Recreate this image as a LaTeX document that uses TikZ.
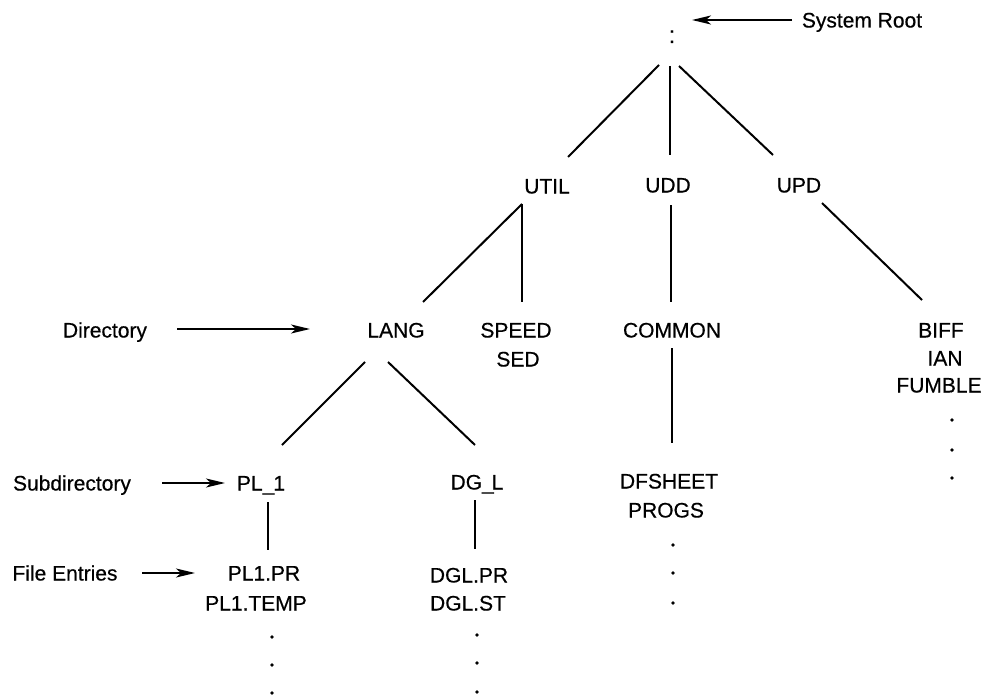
\documentclass[tikz,border=0pt]{standalone}
\usepackage{fontspec}
\setmainfont[FakeBold=0.5]{Liberation Sans}
\usetikzlibrary{arrows.meta}
\begin{document}
\begin{tikzpicture}[x=1pt,y=-1pt,
  lbl/.style={inner sep=0pt, font=\fontsize{21}{24}\selectfont, text height=15pt, text depth=0pt},
  edge/.style={line width=2pt},
  pointer/.style={line width=2pt, -{Stealth[length=19pt,width=9pt,inset=5pt]}},
  dotmark/.style={circle, fill=black, inner sep=0pt, minimum size=3.6pt}]
\useasboundingbox (0,0) rectangle (982,698);

% nodes
\node[lbl, anchor=base, font=\fontsize{24}{26}\selectfont] (root) at (672,43) {:};
\node[lbl] (sysroot) at (862,20) {System Root};
\node[lbl] (util) at (547,186) {UTIL};
\node[lbl] (udd) at (668,185) {UDD};
\node[lbl] (upd) at (799,185) {UPD};
\node[lbl] (lang) at (396,330) {LANG};
\node[lbl] (speed) at (516,330) {SPEED};
\node[lbl] (sed) at (518,359) {SED};
\node[lbl] (common) at (672,330) {COMMON};
\node[lbl] (biff) at (941,330) {BIFF};
\node[lbl] (ian) at (945,358) {IAN};
\node[lbl] (fumble) at (939,385) {FUMBLE};
\node[dotmark] (ud1) at (952,420) {};
\node[dotmark] (ud2) at (952,450) {};
\node[dotmark] (ud3) at (952,478) {};
\node[lbl] (directory) at (105,330) {Directory};
\node[lbl] (pl1) at (261,483) {PL\_\kern-1pt1};
\node[lbl] (dgl) at (477,482) {DG\_\kern-2ptL};
\node[lbl] (dfsheet) at (669,481) {DFSHEET};
\node[lbl] (progs) at (666,510) {PROGS};
\node[dotmark] (cd1) at (673,545) {};
\node[dotmark] (cd2) at (673,573) {};
\node[dotmark] (cd3) at (673,603) {};
\node[lbl] (subdir) at (72,483) {Subdirectory};
\node[lbl] (pl1pr) at (264,573) {PL1.PR};
\node[lbl] (pl1temp) at (256,603) {PL1.TEMP};
\node[dotmark] (pd1) at (272,637) {};
\node[dotmark] (pd2) at (272,665) {};
\node[dotmark] (pd3) at (272,693) {};
\node[lbl] (dglpr) at (469,575) {DGL.PR};
\node[lbl] (dglst) at (468,603) {DGL.ST};
\node[dotmark] (dd1) at (477,635) {};
\node[dotmark] (dd2) at (477,663) {};
\node[dotmark] (dd3) at (477,692) {};
\node[lbl] (files) at (65,573) {File Entries};

% connector end points
\coordinate (rootA) at (659,65);   \coordinate (utilT) at (568,157);
\coordinate (rootB) at (670,66);   \coordinate (uddT) at (670,155);
\coordinate (rootC) at (679,66);   \coordinate (updT) at (773,155);
\coordinate (utilB) at (522,204);  \coordinate (langT) at (423,302);
                                   \coordinate (speedT) at (522,302);
\coordinate (uddB) at (671,205);   \coordinate (commonT) at (671,302);
\coordinate (updB) at (822,203);   \coordinate (biffT) at (922,300);
\coordinate (langBL) at (365,362); \coordinate (pl1T) at (282,445);
\coordinate (langBR) at (388,362); \coordinate (dglT) at (475,445);
\coordinate (commonB) at (672,348);\coordinate (dfsheetT) at (672,443);
\coordinate (pl1B) at (268,502);   \coordinate (pl1prT) at (268,550);
\coordinate (dglB) at (475,500);   \coordinate (dglprT) at (475,549);

\coordinate (sysrootA) at (792,20);   \coordinate (rootP) at (692,20);
\coordinate (dirA) at (177,329);      \coordinate (langP) at (310,329);
\coordinate (subA) at (162,483);      \coordinate (pl1P) at (225,483);
\coordinate (filesA) at (142,573);    \coordinate (pl1prP) at (195,573);

% tree edges
\draw[edge] (rootA) -- (utilT);
\draw[edge] (rootB) -- (uddT);
\draw[edge] (rootC) -- (updT);
\draw[edge] (utilB) -- (langT);
\draw[edge] (utilB) -- (speedT);
\draw[edge] (uddB) -- (commonT);
\draw[edge] (updB) -- (biffT);
\draw[edge] (langBL) -- (pl1T);
\draw[edge] (langBR) -- (dglT);
\draw[edge] (commonB) -- (dfsheetT);
\draw[edge] (pl1B) -- (pl1prT);
\draw[edge] (dglB) -- (dglprT);

% pointers
\draw[pointer] (sysrootA) -- (rootP);
\draw[pointer] (dirA) -- (langP);
\draw[pointer] (subA) -- (pl1P);
\draw[pointer] (filesA) -- (pl1prP);
\end{tikzpicture}
\end{document}
